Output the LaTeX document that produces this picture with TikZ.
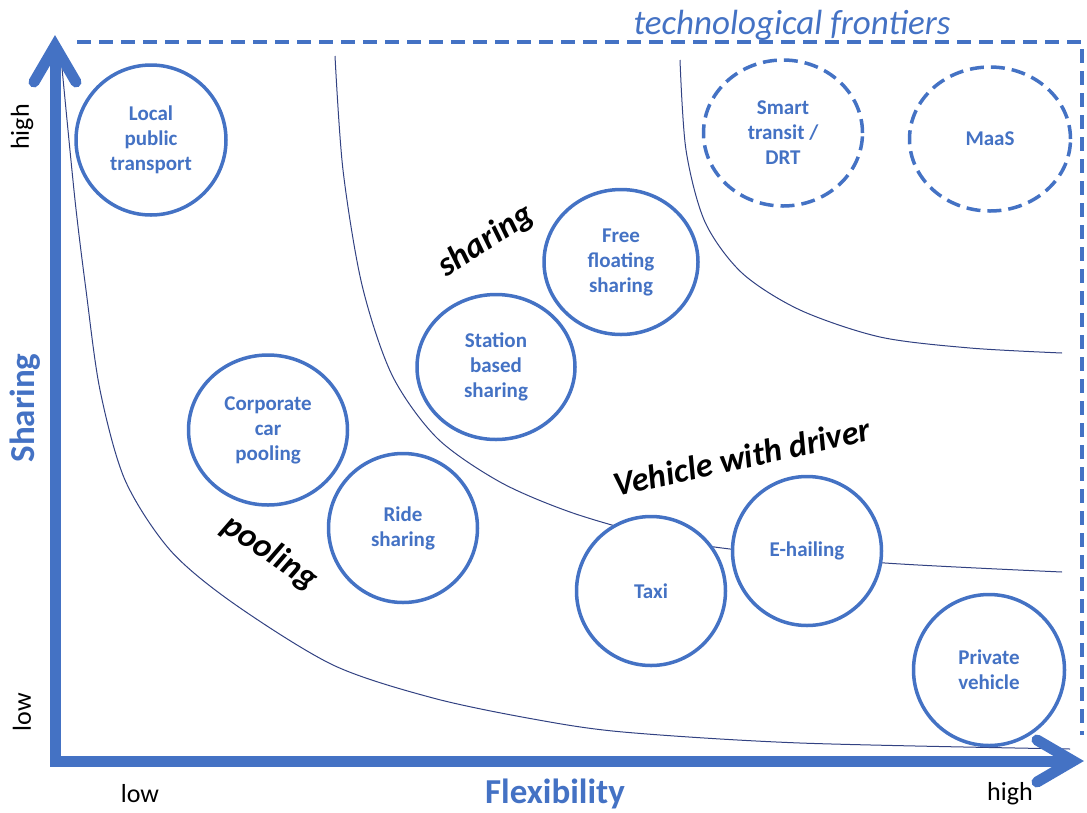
\documentclass[tikz,border=0pt]{standalone}
\usepackage{fontspec}
\setmainfont{Carlito}
\usetikzlibrary{shapes.geometric}
\definecolor{tblue}{RGB}{68,114,196}
\definecolor{dblue}{RGB}{50,66,130}
\tikzstyle{axis} = [line width=11pt, tblue, line join=miter]
\tikzset{
    bubble/.style={
        ellipse, draw=tblue, line width=3.5pt, fill=white,
        minimum width=149pt, minimum height=149pt, inner sep=0pt,
        align=center, text=tblue,
        font=\fontsize{21}{25}\selectfont\bfseries
    },
    dbubble/.style={
        bubble, dash pattern=on 14pt off 7pt
    },
    frontier/.style={
        draw=tblue, line width=3.5pt,
        dash pattern=on 14pt off 8pt
    },
    curve/.style={
        dblue, line width=1pt
    },
    tag/.style={
        font=\fontsize{34}{38}\selectfont\bfseries\itshape
    },
    axlabel/.style={
        text=tblue, font=\fontsize{35}{40}\selectfont\bfseries
    },
    tick/.style={
        font=\fontsize{26}{30}\selectfont
    }
}
\begin{document}
\begin{tikzpicture}[x=1pt, y=-1pt]
    \useasboundingbox (0,0) rectangle (1087,812);
    % frontier curves
    \draw[curve] plot[smooth] coordinates {(62,68) (75,200) (86,290) (100,390)
        (125,480) (170,550) (233,603) (333,665) (433,698) (533,719) (623,732)
        (800,743) (1070,749)};
    \draw[curve] plot[smooth] coordinates {(335,56) (343,170) (362,285) (392,375)
        (437,438) (500,482) (570,512) (650,535) (730,549) (885,563) (1062,572)};
    \draw[curve] plot[smooth] coordinates {(680,60) (686,150) (705,222) (742,273)
        (800,310) (880,337) (970,348) (1062,353)};
    % technological frontier
    \draw[frontier] (77,42) -- (1082,42) -- (1082,735);
    \node[text=tblue, font=\fontsize{35}{38}\selectfont\itshape] (front) at (792,25) {technological frontiers};
    % modes
    \node[bubble, minimum width=150pt, minimum height=150pt] (lpt) at (151,140) {Local\\public\\transport};
    \node[dbubble, minimum width=159pt, minimum height=146pt] (drt) at (783,133) {Smart\\transit /\\DRT};
    \node[dbubble, minimum width=161pt, minimum height=144pt] (maas) at (990,139) {MaaS};
    \node[bubble, minimum width=154pt, minimum height=145pt] (ffs) at (621,262) {Free\\floating\\sharing};
    \node[bubble, minimum width=158pt, minimum height=145pt] (sbs) at (496,367) {Station\\based\\sharing};
    \node[bubble, minimum width=159pt, minimum height=150pt] (ccp) at (268,430) {Corporate\\car\\pooling};
    \node[bubble] (ride) at (403,528) {Ride\\sharing};
    \node[bubble] (taxi) at (651,591) {Taxi};
    \node[bubble] (ehail) at (807,551) {E-hailing};
    \node[bubble, minimum width=151pt, minimum height=151pt] (priv) at (989,670) {Private\\vehicle};
    % axes
    \draw[axis] (1073,761) -- (55,761) -- (55,46);
    \draw[axis, line cap=round] (34,82) -- (55,46) -- (76,82);
    \draw[axis, line cap=round] (1037,740) -- (1073,761) -- (1037,782);
    \node[axlabel, rotate=90] (ylab) at (25,408) {Sharing};
    \node[axlabel] (xlab) at (555,794) {Flexibility};
    \node[tick, rotate=90] (yhigh) at (22,127) {high};
    \node[tick, rotate=90] (ylow) at (22,712) {low};
    \node[tick] (xlow) at (140,794) {low};
    \node[tick] (xhigh) at (1010,794) {high};
    % groups
    \node[tag, rotate=33] (gshare) at (486,241) {sharing};
    \node[tag, rotate=-34] (gpool) at (270,553) {pooling};
    \node[tag, rotate=12.5] (gdriver) at (742,457) {Vehicle with driver};
\end{tikzpicture}
\end{document}
